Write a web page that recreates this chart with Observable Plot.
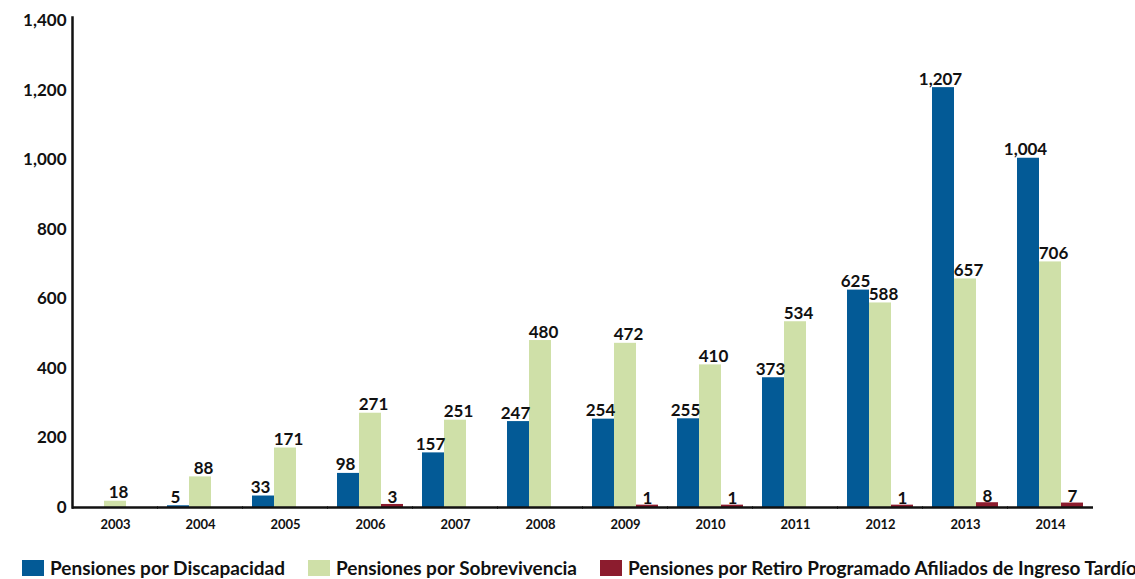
<!DOCTYPE html>
<html><head><meta charset="utf-8">
<script src="https://cdn.jsdelivr.net/npm/d3@7"></script>
<script src="https://cdn.jsdelivr.net/npm/@observablehq/plot@0.6"></script>
<style>
body{margin:0;background:#fff;font-family:Lato,"Open Sans",sans-serif;overflow:hidden;}
#legend{display:flex;align-items:center;height:20px;margin-top:15px;padding-left:22px;font-weight:700;font-size:19px;line-height:20px;color:#111;white-space:nowrap;}
.item{display:flex;align-items:center;margin-right:23px;}
.sw{width:22px;height:16px;margin-right:6px;}
</style></head>
<body><div id="chart"></div><div id="legend"></div>
<script>
const years = ["2003","2004","2005","2006","2007","2008","2009","2010","2011","2012","2013","2014"];
const discapacidad = [null,5,33,98,157,247,254,255,373,625,1207,1004];
const sobrevivencia = [18,88,171,271,251,480,472,410,534,588,657,706];
const retiro = [null,null,null,3,null,null,1,1,null,1,8,7];
const seriesNames = ["Pensiones por Discapacidad","Pensiones por Sobrevivencia","Pensiones por Retiro Programado Afiliados de Ingreso Tardío"];
const colors = ["#035a96","#cfe0a8","#8c1c2e"];
const yTicks = [0,200,400,600,800,1000,1200,1400];

const rows = [];
years.forEach((yr,i)=>{
  [discapacidad,sobrevivencia,retiro].forEach((arr,j)=>{
    if(arr[i]!=null) rows.push({year:yr, series:seriesNames[j], value:arr[i]});
  });
});
const fmt = d3.format(",");
const isRed = d => d.series === seriesNames[2];
const labelMark = (data, dx) => Plot.text(data, {fx:"year", x:"series", y:"value", text:d=>fmt(d.value), lineAnchor:"bottom", dy:-3, dx, fontSize:17, fontWeight:700, fill:"#111"});

const plot = Plot.plot({
  width:1135, height:543,
  marginLeft:68, marginRight:37, marginTop:20, marginBottom:36,
  style:{fontFamily:"Lato, 'Open Sans', sans-serif", color:"#111", background:"#fff"},
  fx:{domain:years, padding:0.2, paddingOuter:0.1, label:null, axis:null},
  x:{domain:seriesNames, padding:0, axis:null},
  y:{domain:[0,1400], axis:null},
  color:{domain:seriesNames, range:colors},
  marks:[
    Plot.barY(rows.filter(d=>!isRed(d)), {fx:"year", x:"series", y:"value", fill:"series"}),
    Plot.barY(rows.filter(isRed), {fx:"year", x:"series", y:"value", fill:"series", insetTop:-2}),
    labelMark(rows.filter(d=>d.series===seriesNames[0]), -3),
    labelMark(rows.filter(d=>d.series===seriesNames[1]), 3),
    labelMark(rows.filter(isRed), 0),
    Plot.ruleY([0], {stroke:"#111", strokeWidth:2.5, insetLeft:-9, insetRight:-9}),
    Plot.frame({anchor:"left", facetAnchor:"left", insetLeft:-9, insetTop:-3, stroke:"#111", strokeWidth:2.5}),
    Plot.axisY({ticks:yTicks, tickFormat:fmt, tickSize:0, tickPadding:15, fontSize:17, fontWeight:700, label:null}),
    Plot.axisFx({anchor:"bottom", tickSize:0, tickPadding:12, fontSize:13, fontWeight:700, label:null})
  ]
});
document.getElementById("chart").appendChild(plot);

const legend = document.getElementById("legend");
seriesNames.forEach((name,i)=>{
  const it = document.createElement("div"); it.className="item";
  const sw = document.createElement("div"); sw.className="sw"; sw.style.background=colors[i];
  const tx = document.createElement("span"); tx.textContent=name;
  it.appendChild(sw); it.appendChild(tx); legend.appendChild(it);
});
</script></body></html>
